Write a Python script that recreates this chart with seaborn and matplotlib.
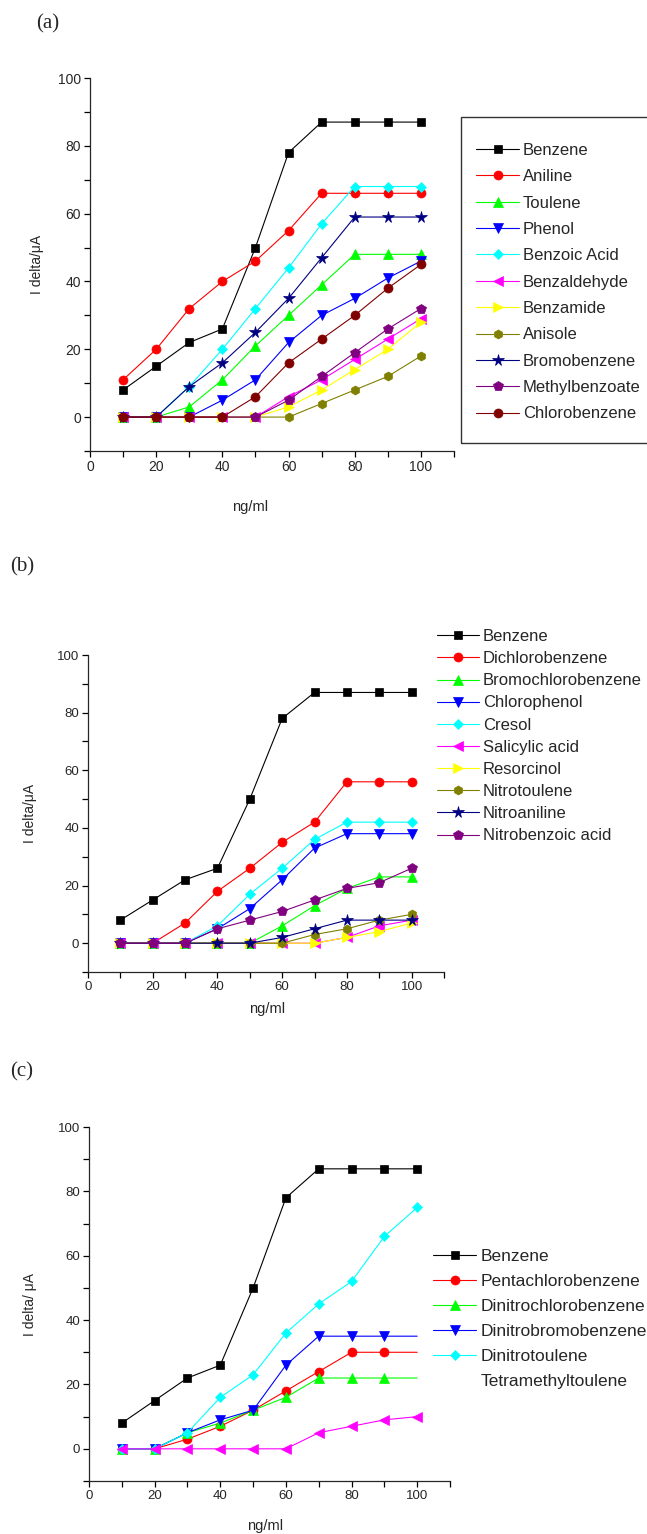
import matplotlib
matplotlib.use("Agg")
import matplotlib.pyplot as plt
from matplotlib.lines import Line2D
from matplotlib.patches import Rectangle
from matplotlib.ticker import MultipleLocator
import seaborn as sns

# ---------------------------------------------------------------- data
conc = [10, 20, 30, 40, 50, 60, 70, 80, 90, 100]

# panel (a)
a_names = ["Benzene", "Aniline", "Toulene", "Phenol", "Benzoic Acid",
           "Benzaldehyde", "Benzamide", "Anisole", "Bromobenzene",
           "Methylbenzoate", "Chlorobenzene"]
a_benzene = [8, 15, 22, 26, 50, 78, 87, 87, 87, 87]
a_aniline = [11, 20, 32, 40, 46, 55, 66, 66, 66, 66]
a_toulene = [0, 0, 3, 11, 21, 30, 39, 48, 48, 48]
a_phenol = [0, 0, 0, 5, 11, 22, 30, 35, 41, 46]
a_benzoic_acid = [0, 0, 9, 20, 32, 44, 57, 68, 68, 68]
a_benzaldehyde = [0, 0, 0, 0, 0, 6, 11, 17, 23, 29]
a_benzamide = [0, 0, 0, 0, 0, 3, 8, 14, 20, 28]
a_anisole = [0, 0, 0, 0, 0, 0, 4, 8, 12, 18]
a_bromobenzene = [0, 0, 9, 16, 25, 35, 47, 59, 59, 59]
a_methylbenzoate = [0, 0, 0, 0, 0, 5, 12, 19, 26, 32]
a_chlorobenzene = [0, 0, 0, 0, 6, 16, 23, 30, 38, 45]

# panel (b)
b_names = ["Benzene", "Dichlorobenzene", "Bromochlorobenzene", "Chlorophenol",
           "Cresol", "Salicylic acid", "Resorcinol", "Nitrotoulene",
           "Nitroaniline", "Nitrobenzoic acid"]
b_benzene = [8, 15, 22, 26, 50, 78, 87, 87, 87, 87]
b_dichlorobenzene = [0, 0, 7, 18, 26, 35, 42, 56, 56, 56]
b_bromochlorobenzene = [0, 0, 0, 0, 0, 6, 13, 19, 23, 23]
b_chlorophenol = [0, 0, 0, 5, 12, 22, 33, 38, 38, 38]
b_cresol = [0, 0, 0, 6, 17, 26, 36, 42, 42, 42]
b_salicylic_acid = [0, 0, 0, 0, 0, 0, 0, 2, 6, 8]
b_resorcinol = [0, 0, 0, 0, 0, 0, 0, 2, 4, 7]
b_nitrotoulene = [0, 0, 0, 0, 0, 0, 3, 5, 8, 10]
b_nitroaniline = [0, 0, 0, 0, 0, 2, 5, 8, 8, 8]
b_nitrobenzoic_acid = [0, 0, 0, 5, 8, 11, 15, 19, 21, 26]

# panel (c)
c_names = ["Benzene", "Pentachlorobenzene", "Dinitrochlorobenzene",
           "Dinitrobromobenzene", "Dinitrotoulene", "Tetramethyltoulene"]
c_benzene = [8, 15, 22, 26, 50, 78, 87, 87, 87, 87]
c_pentachlorobenzene = [0, 0, 3, 7, 12, 18, 24, 30, 30, 30]
c_dinitrochlorobenzene = [0, 0, 5, 8, 12, 16, 22, 22, 22, 22]
c_dinitrobromobenzene = [0, 0, 5, 9, 12, 26, 35, 35, 35, 35]
c_dinitrotoulene = [0, 0, 5, 16, 23, 36, 45, 52, 66, 75]
c_tetramethyltoulene = [0, 0, 0, 0, 0, 0, 5, 7, 9, 10]

x_ticks = [0, 20, 40, 60, 80, 100]
y_ticks = [0, 20, 40, 60, 80, 100]

# series colours / symbols, in plotting order
colors = ["#000000", "#FF0000", "#00FF00", "#0000FF", "#00FFFF", "#FF00FF",
          "#FFFF00", "#808000", "#000080", "#800080", "#800000"]
markers = ["s", "o", "^", "v", "D", "<", ">", "h", "*", "p", "o"]
msizes = [6, 6.5, 6.5, 6.5, 5.5, 6.5, 6.5, 6.5, 8.5, 7, 6.5]

# ---------------------------------------------------------------- style
sns.set_style("ticks")
SANS = "Liberation Sans"
SERIF = "Liberation Serif"
plt.rcParams["font.family"] = [SANS, "DejaVu Sans"]
plt.rcParams["axes.linewidth"] = 0.9

W, H = 647, 1534
fig = plt.figure(figsize=(W / 100, H / 100), dpi=100)
fig.patch.set_facecolor("white")


def rect(l, t, r, b):
    return [l / W, 1 - b / H, (r - l) / W, (b - t) / H]


def draw_panel(ax, names_, series, no_last_marker=()):
    for i, (name, vals) in enumerate(zip(names_, series)):
        kw = {}
        if i in no_last_marker:
            kw["markevery"] = slice(0, len(conc) - 1)
        sns.lineplot(x=conc, y=vals, ax=ax, color=colors[i], marker=markers[i],
                     markersize=msizes[i], markeredgecolor=colors[i],
                     markeredgewidth=0.5, linewidth=0.8, label=name,
                     errorbar=None, sort=False, **kw)
    ax.set_xlim(0, 110)
    ax.set_ylim(-10, 100)
    ax.set_xticks(x_ticks)
    ax.set_yticks(y_ticks)
    ax.xaxis.set_minor_locator(MultipleLocator(10))
    ax.yaxis.set_minor_locator(MultipleLocator(10))
    sns.despine(ax=ax)
    ax.tick_params(which="both", direction="out", length=4, width=0.9,
                   color="black", pad=2.5)
    ax.set_facecolor("white")


def tick_fonts(ax, size):
    for lab in ax.get_xticklabels() + ax.get_yticklabels():
        lab.set_fontsize(size)


# ---------------------------------------------------------------- (a)
ax_a = fig.add_axes(rect(90, 78, 454, 451))
draw_panel(ax_a, a_names,
           [a_benzene, a_aniline, a_toulene, a_phenol, a_benzoic_acid,
            a_benzaldehyde, a_benzamide, a_anisole, a_bromobenzene,
            a_methylbenzoate, a_chlorobenzene])
tick_fonts(ax_a, 10)
ax_a.set_ylabel("I delta/μA", fontsize=10)
ax_a.set_xlabel("ng/ml", fontsize=10.5)
ax_a.yaxis.set_label_coords(-0.126, 0.5)
ax_a.xaxis.set_label_coords(0.44, -0.131)
h, l = ax_a.get_legend_handles_labels()
ax_a.legend(h, l, loc="upper left", bbox_to_anchor=(476 / W, 1 - 143 / H),
            bbox_transform=fig.transFigure, frameon=False, borderpad=0,
            borderaxespad=0, labelspacing=0.68, handlelength=2.58,
            handletextpad=0.24, numpoints=1,
            prop={"family": SANS, "size": 12})
# box around the legend of panel (a); it runs past the right edge
fig.patches.append(Rectangle((461 / W, 1 - 443 / H), 260 / W, 326 / H,
                             transform=fig.transFigure, fill=False,
                             edgecolor="#333333", linewidth=1.0,
                             clip_on=False))

# ---------------------------------------------------------------- (b)
ax_b = fig.add_axes(rect(88, 655, 444, 972))
draw_panel(ax_b, b_names,
           [b_benzene, b_dichlorobenzene, b_bromochlorobenzene, b_chlorophenol,
            b_cresol, b_salicylic_acid, b_resorcinol, b_nitrotoulene,
            b_nitroaniline, b_nitrobenzoic_acid])
tick_fonts(ax_b, 9.5)
ax_b.set_ylabel("I delta/μA", fontsize=10)
ax_b.set_xlabel("ng/ml", fontsize=10.5)
ax_b.yaxis.set_label_coords(-0.143, 0.5)
ax_b.xaxis.set_label_coords(0.503, -0.095)
h, l = ax_b.get_legend_handles_labels()
ax_b.legend(h, l, loc="upper left", bbox_to_anchor=(437 / W, 1 - 629 / H),
            bbox_transform=fig.transFigure, frameon=False, borderpad=0,
            borderaxespad=0, labelspacing=0.43, handlelength=2.5,
            handletextpad=0.25, numpoints=1,
            prop={"family": SANS, "size": 12})

# ---------------------------------------------------------------- (c)
ax_c = fig.add_axes(rect(89, 1127, 450, 1481))
draw_panel(ax_c, c_names,
           [c_benzene, c_pentachlorobenzene, c_dinitrochlorobenzene,
            c_dinitrobromobenzene, c_dinitrotoulene, c_tetramethyltoulene],
           no_last_marker=(1, 2, 3))
tick_fonts(ax_c, 9.5)
ax_c.set_ylabel("I delta/ μA", fontsize=10)
ax_c.set_xlabel("ng/ml", fontsize=10.5)
ax_c.yaxis.set_label_coords(-0.144, 0.5)
ax_c.xaxis.set_label_coords(0.488, -0.108)
h, l = ax_c.get_legend_handles_labels()
# the last entry is listed by name only
h[-1] = Line2D([], [], linestyle="none", marker=None)
ax_c.legend(h, l, loc="upper left", bbox_to_anchor=(433 / W, 1 - 1249 / H),
            bbox_transform=fig.transFigure, frameon=False, borderpad=0,
            borderaxespad=0, labelspacing=0.57, handlelength=2.5,
            handletextpad=0.25, numpoints=1,
            prop={"family": SANS, "size": 12.5})

# ---------------------------------------------------------------- panel tags
for tag, x, y in [("(a)", 36, 24), ("(b)", 10, 567), ("(c)", 10, 1072)]:
    fig.text(x / W, 1 - y / H, tag, family=SERIF, fontsize=15,
             ha="left", va="center")

fig.savefig("out.png", dpi=100, facecolor="white")
